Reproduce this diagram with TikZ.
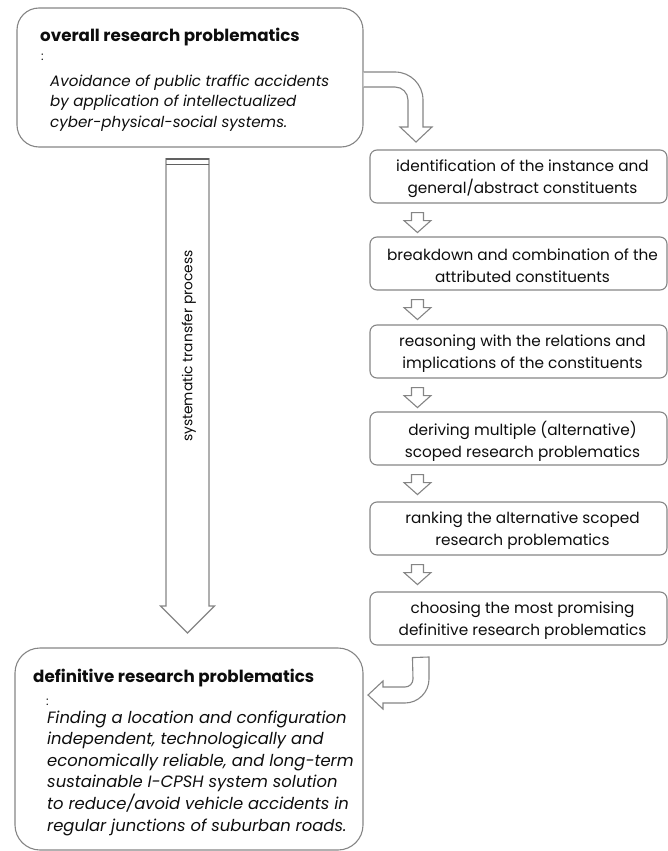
\documentclass[tikz,border=0pt]{standalone}
\usepackage{fontspec}
\setmainfont{Poppins}
\usetikzlibrary{calc}
\definecolor{lg}{gray}{0.52}
\definecolor{dg}{gray}{0.38}
\definecolor{tx}{gray}{0.05}
\begin{document}
\begin{tikzpicture}[x=1pt,y=-1pt,
  bigbox/.style={draw=lg,line width=1.1pt,rounded corners=22pt,inner sep=0pt},
  stepbox/.style={draw=lg,line width=1.1pt,rounded corners=7pt,minimum width=297pt,minimum height=53pt,inner sep=0pt},
  steptext/.style={text=tx,align=center,font=\fontsize{15.3}{22}\selectfont,inner sep=0pt},
  titletext/.style={text=tx,anchor=base west,font=\fontsize{16.7}{18}\selectfont\bfseries,inner sep=0pt},
  itext/.style={text=tx,anchor=base west,font=\fontsize{15.1}{18}\selectfont\itshape,inner sep=0pt},
  bitext/.style={itext,font=\fontsize{16.4}{18}\selectfont\itshape},
  blockarrow/.style={draw=lg,line width=1.1pt,fill=white,line join=miter}]
\useasboundingbox (0,0) rectangle (668,851);

% top box
\node[bigbox,minimum width=346pt,minimum height=139pt] (top) at (190,77.5) {};
\node[titletext] (toptitle) at (40,42) {overall research problematics};
\node[text=tx,anchor=base west,font=\fontsize{12}{14}\selectfont,inner sep=0pt] (topcolon) at (41,61) {:};
\foreach \t [count=\i] in {Avoidance of public traffic accidents,by application of intellectualized,cyber-physical-social systems.}
  \node[itext] (topl\i) at (50,{65.5+20.5*\i}) {\t};

% bottom box
\node[bigbox,minimum width=348pt,minimum height=202pt,rounded corners=25pt] (bot) at (189,749) {};
\node[titletext] (bottitle) at (33,682) {definitive research problematics};
\node[text=tx,anchor=base west,font=\fontsize{12}{14}\selectfont,inner sep=0pt] (botcolon) at (46,705) {:};
\foreach \t [count=\i] in {Finding a location and configuration,{independent, technologically and},{economically reliable, and long-term},sustainable I-CPSH system solution,to reduce/avoid vehicle accidents in,regular junctions of suburban roads.}
  \node[bitext] (botl\i) at (47,{701.4+21.6*\i}) {\t};

% step boxes
\node[stepbox] (s1) at (518.5,176.5) {};
\node[stepbox] (s2) at (518.5,263.5) {};
\node[stepbox] (s3) at (518.5,351.5) {};
\node[stepbox] (s4) at (518.5,438.5) {};
\node[stepbox] (s5) at (518.5,528.5) {};
\node[stepbox] (s6) at (518.5,618.5) {};
\node[steptext] (s1t) at ($(s1.center)+(4,2.5)$) {identification of the instance and\\general/abstract constituents};
\node[steptext] (s2t) at ($(s2.center)+(4,2.5)$) {breakdown and combination of the\\attributed constituents};
\node[steptext] (s3t) at ($(s3.center)+(4,2.5)$) {reasoning with the relations and\\implications of the constituents};
\node[steptext] (s4t) at ($(s4.center)+(4,2.5)$) {deriving multiple (alternative)\\scoped research problematics};
\node[steptext] (s5t) at ($(s5.center)+(4,2.5)$) {ranking the alternative scoped\\research problematics};
\node[steptext] (s6t) at ($(s6.center)+(4,2.5)$) {choosing the most promising\\definitive research problematics};

% small block arrows between steps
\foreach \a in {s1,s2,s3,s4,s5}
  \draw[blockarrow] ($(\a.south west)+(42,9)$) -- ++(0,8) -- ++(-7.5,0) -- ++(13.5,12) -- ++(13.5,-12) -- ++(-7.5,0) -- ++(0,-8) -- cycle;

% curved arrow from top box to first step
\coordinate (ca) at ($(top.east)+(0,-5.5)$);
\draw[blockarrow] (ca) -- (395,72) .. controls (410.5,72) and (423,84.5) .. (423,100) -- (423,127) -- (432,127) -- (416,142) -- (400,127) -- (408,127) -- (408,100) .. controls (408,92.8) and (402.2,87) .. (395,87) -- (top.east |- 0,87);

% curved arrow from last step to bottom box
\coordinate (cb) at ($(s6.south west)+(43,12)$);
\draw[blockarrow] (cb) -- (429,657) -- (429,679) .. controls (429,692.2) and (418.2,703) .. (405,703) -- (383,703) -- (383,709) -- (368,695) -- (383,681) -- (383,687) -- (405,687) .. controls (409.4,687) and (413,683.4) .. (413,679) -- cycle;

% big vertical arrow
\coordinate (va) at (166,158);
\draw[blockarrow] (va) -- (166,606) -- (160.5,606) -- (187.5,633) -- (214.5,606) -- (209,606) -- (209,158);
\draw[dg,line width=2pt] (166,159) -- (209,159);
\draw[dg,line width=1.8pt] (166,164.5) -- (209,164.5);
\node[text=tx,rotate=90,font=\fontsize{13.8}{16}\selectfont,inner sep=0pt] (vt) at (189,346) {systematic transfer process};
\end{tikzpicture}
\end{document}
